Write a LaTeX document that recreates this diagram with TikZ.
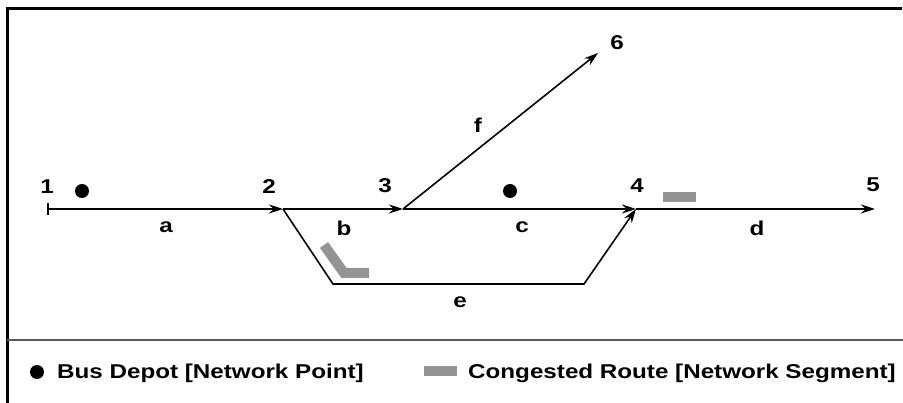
\documentclass[tikz,border=0pt]{standalone}
\usepackage{fontspec}
\setmainfont{Liberation Sans}
\usetikzlibrary{arrows.meta}
\newcommand{\wtext}[1]{\scalebox{1.21}[1]{#1}}
\tikzstyle{every node}=[font=\fontsize{20}{24}\selectfont\bfseries,inner sep=0pt]
\tikzstyle{route}=[line width=1.6pt,-{Stealth[length=14pt,width=9pt]}]
\tikzstyle{jam}=[line width=10pt,color=black!42]
\tikzstyle{depot}=[circle,fill=black,minimum size=14pt]

\begin{document}
\begin{tikzpicture}[x=1pt,y=-1pt]
  \useasboundingbox (0,0) rectangle (903,403);
  \draw[line width=3pt] (7,403) -- (7,9) -- (902,9);
  \draw[line width=2pt,black!65] (7,340) -- (903,340);
  \coordinate (n1) at (47,209);
  \coordinate (n2) at (283,209);
  \coordinate (n3) at (403,209);
  \coordinate (n4) at (636,209);
  \coordinate (n5) at (875,209);
  \coordinate (n6) at (598,53);
  \coordinate (e1) at (333,284);
  \coordinate (e2) at (584,284);
  \node (l1) at (47,187) {\wtext{1}};
  \node (l2) at (269,187) {\wtext{2}};
  \node (l3) at (385,186) {\wtext{3}};
  \node (l4) at (637,186) {\wtext{4}};
  \node (l5) at (873,185) {\wtext{5}};
  \node (l6) at (617,43) {\wtext{6}};
  \node (la) at (166,227) {\wtext{a}};
  \node (lb) at (344,228) {\wtext{b}};
  \node (lc) at (522,227) {\wtext{c}};
  \node (ld) at (757,228) {\wtext{d}};
  \node (le) at (460,302) {\wtext{e}};
  \node (lf) at (478,125) {\wtext{f}};
  \node[depot] (bus1) at (82,191) {};
  \node[depot] (bus2) at (510,191) {};
  \draw[jam] (324,245) -- (344,273) -- (369,273);
  \draw[jam] (663,197) -- (696,197);
  \draw[route,{Bar[width=12pt]}-{Stealth[length=14pt,width=9pt]}] (n1) -- (n2);
  \draw[route] (n2) -- (n3);
  \draw[route] (n3) -- (n4);
  \draw[route] (n4) -- (n5);
  \draw[route] (n3) -- (n6);
  \draw[route] (n2) -- (e1) -- (e2) -- (n4);
  \node[depot] (buskey) at (37,372) {};
  \node[anchor=base west] (buslabel) at (57,379) {\wtext{Bus Depot [Network Point]}};
  \draw[jam] (424,371.5) -- (457,371.5);
  \node[anchor=base west] (jamlabel) at (468,379) {\wtext{Congested Route [Network Segment]}};
\end{tikzpicture}
\end{document}
